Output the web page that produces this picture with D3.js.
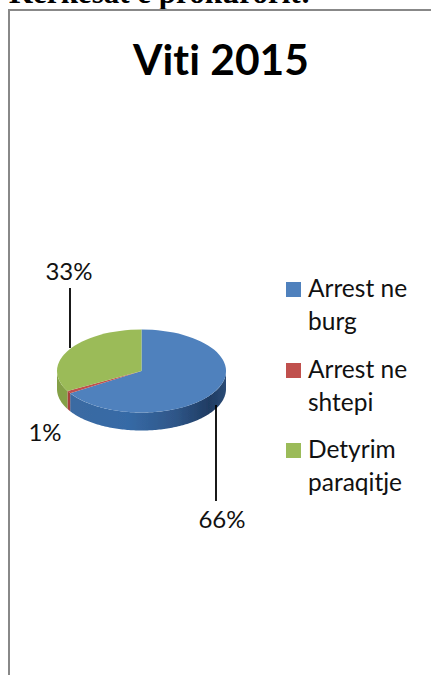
<!DOCTYPE html>
<html><head><meta charset="utf-8">
<script src="https://cdn.jsdelivr.net/npm/d3@7"></script>
<style>html,body{margin:0;padding:0;background:#fff}svg{display:block}text{font-family:Lato,sans-serif;fill:#111;font-variant-ligatures:none}</style>
</head><body><svg id="c" width="431" height="675"></svg>
<script>
const categories=["Arrest ne burg","Arrest ne shtepi","Detyrim paraqitje"];
const legendLines=[["Arrest ne","burg"],["Arrest ne","shtepi"],["Detyrim","paraqitje"]];
const values=[66,1,33];
const labels=["66%","1%","33%"];
const colors=["#4f81bd","#c0504d","#9bbb59"];
const sideDark=["#1f3c63","#8c3431","#6d8a3a"];
const sideMid=["#3c6aa1","#a8403d","#84a046"];
const title="Viti 2015";
const header="Kerkesat e prokurorit:";
const W=431,H=675;
const cx=141.5,cy=371,rx=84.5,ry=41.5,depth=18;
const svg=d3.select("#c");
const defs=svg.append("defs");
defs.append("filter").attr("id","soft").append("feGaussianBlur").attr("stdDeviation",0.6);
svg.append("text").text(header).attr("x",9).attr("y",3).style("font-family","'Liberation Serif',serif").style("font-weight",700).style("font-size","31px").style("fill","#000");
svg.append("path").attr("d",`M${W},10H9V${H}`).attr("fill","none").attr("stroke","#888").attr("stroke-width",2);
svg.append("text").text(title).attr("x",221).attr("y",75).attr("text-anchor","middle").style("font-weight",700).style("font-size","42.5px").style("fill","#000");
const pie=d3.pie().sort(null).value(d=>d)(values);
const px=d3.scaleLinear().domain([-1,1]).range([cx-rx,cx+rx]);
const py=d3.scaleLinear().domain([-1,1]).range([cy-ry,cy+ry]);
const g=svg.append("g").attr("filter","url(#soft)");
pie.forEach((s,i)=>{
  const a0=Math.max(s.startAngle,Math.PI/2),a1=Math.min(s.endAngle,Math.PI*1.5);
  if(a1<=a0)return;
  const id="side"+i;
  const gr=defs.append("linearGradient").attr("id",id).attr("gradientUnits","userSpaceOnUse").attr("x1",cx-rx).attr("x2",cx+rx).attr("y1",0).attr("y2",0);
  if(i===0){
    gr.selectAll("stop").data([[0,sideMid[0]],[.42,"#366aa6"],[.7,"#2f5688"],[.9,sideDark[0]],[1,"#2a4a75"]]).join("stop").attr("offset",d=>d[0]).attr("stop-color",d=>d[1]);
  } else {
    gr.selectAll("stop").data([[0,sideMid[i]],[1,sideMid[i]]]).join("stop").attr("offset",d=>d[0]).attr("stop-color",d=>d[1]);
  }
  const angs=d3.range(a0,a1,0.02).concat([a1]);
  const top=angs.map(a=>[px(Math.sin(a)),py(-Math.cos(a))]);
  const bot=angs.slice().reverse().map(a=>[px(Math.sin(a)),py(-Math.cos(a))+depth]);
  g.append("path").attr("d",d3.line()(top.concat(bot))+"Z").attr("fill",`url(#${id})`);
});
const arc=d3.arc().innerRadius(0).outerRadius(1);
g.selectAll("path.top").data(pie).join("path").attr("class","top")
 .attr("transform",`translate(${cx},${cy}) scale(${rx},${ry})`)
 .attr("d",arc).attr("fill",(d,i)=>colors[i]);
const leaders=[[216,405,216,501],[null],[70,288,70,348]];
leaders.forEach(l=>{if(l[0]!=null)svg.append("line").attr("x1",l[0]).attr("y1",l[1]).attr("x2",l[2]).attr("y2",l[3]).attr("stroke","#000").attr("stroke-width",1.8)});
const labelPos=[[222,528],[45,441],[69,280]];
labels.forEach((t,i)=>svg.append("text").text(t).attr("x",labelPos[i][0]).attr("y",labelPos[i][1]).attr("text-anchor","middle").style("font-size","24px"));
const ly=[289.5,370.5,450.5];
categories.forEach((c,i)=>{
  svg.append("rect").attr("x",286).attr("y",ly[i]-7.5).attr("width",15).attr("height",15).attr("fill",colors[i]);
  const t=svg.append("text").style("font-size","24.5px");
  legendLines[i].forEach((ln,j)=>t.append("tspan").attr("x",308).attr("y",ly[i]+7.5+j*32.5).text(ln));
});
</script></body></html>
